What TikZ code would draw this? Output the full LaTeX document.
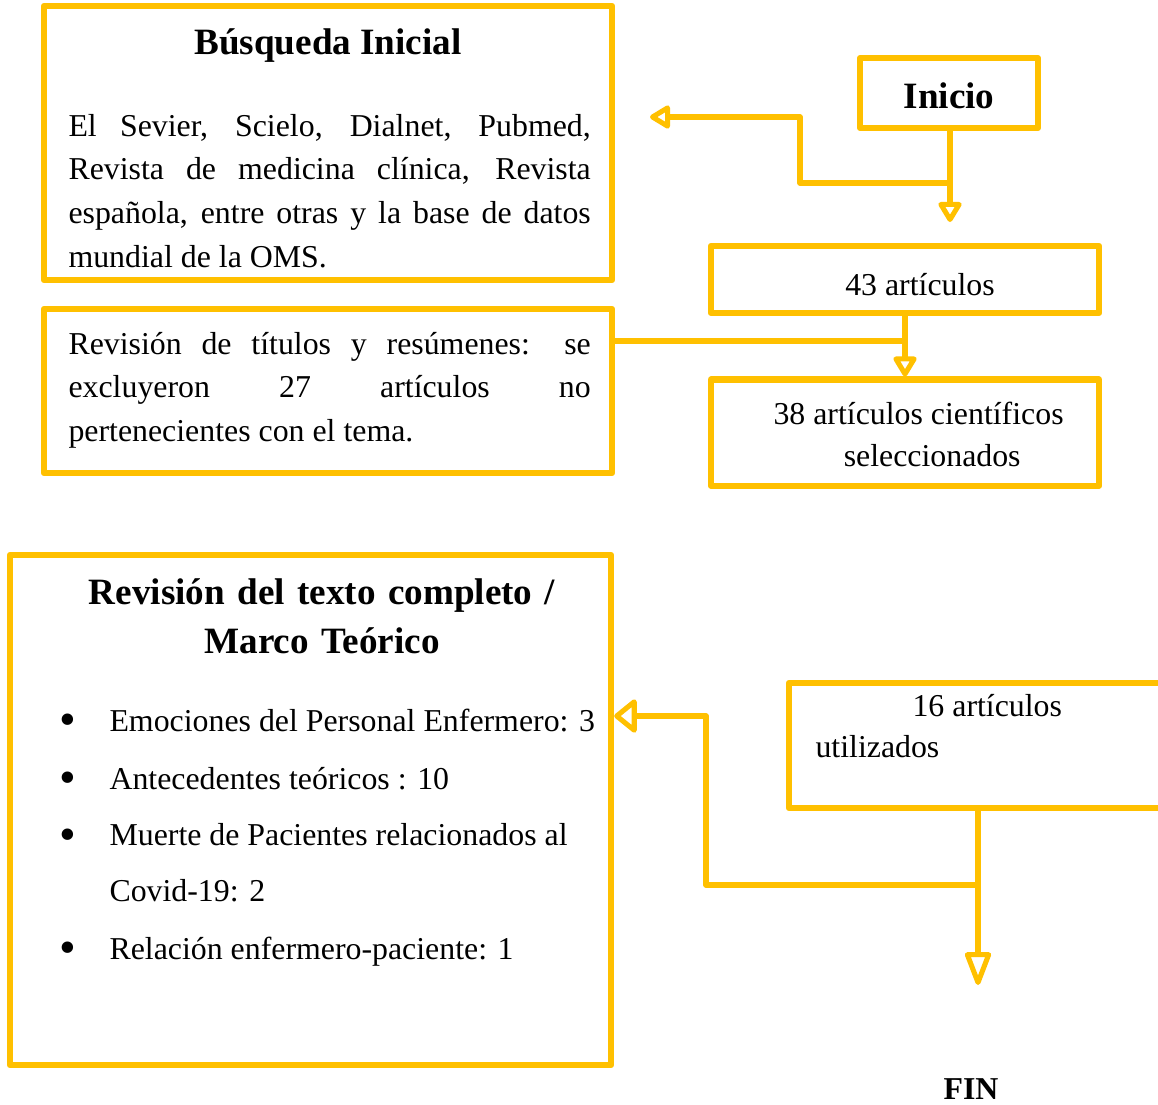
\documentclass[tikz,border=0pt]{standalone}
\usepackage{fontspec}
\setmainfont{Liberation Serif}
\usetikzlibrary{arrows.meta,positioning}
\definecolor{cgold}{RGB}{255,192,0}

\begin{document}
\begin{tikzpicture}[-,x=0.01325cm,y=-0.01325cm,line join=round,
  box node/.style={rectangle,draw=cgold,line width=2.3pt,inner sep=0pt},
  text node/.style={inner sep=0pt,font=\fontsize{12}{16.5}\selectfont},
  title node/.style={inner sep=0pt,font=\fontsize{14}{18.8}\selectfont\bfseries},
  bullet node/.style={inner sep=0pt,font=\fontsize{18}{18}\selectfont},
  link/.style={draw=cgold,line width=1.9pt},
  small head/.style={-{Triangle[open,round,length=0.3cm,width=0.34cm]}},
  long head/.style={-{Triangle[open,round,length=0.5cm,width=0.36cm]}},
  wide head/.style={-{Triangle[open,round,length=0.32cm,width=0.5cm]}}]
  \useasboundingbox (0,0) rectangle (1158,1104);

  % boxes
  \node[box node,minimum width=7.526cm,minimum height=3.63cm] (busqueda) at (328,143) {};
  \node[box node,minimum width=2.358cm,minimum height=0.928cm] (inicio) at (949,93) {};
  \node[box node,minimum width=5.141cm,minimum height=0.888cm] (n43) at (905,279.5) {};
  \node[box node,minimum width=7.526cm,minimum height=2.173cm] (revision) at (328,391) {};
  \node[box node,minimum width=5.141cm,minimum height=1.405cm] (n38) [below=0.8cm of n43] {};
  \node[box node,minimum width=7.963cm,minimum height=6.758cm] (marco) at (310.5,810) {};
  \node[box node,minimum width=5.115cm,minimum height=1.656cm] (n16) at (982,745.5) {};

  % texts
  \node[title node,anchor=base] (tbusqueda) at (328,54) {Búsqueda Inicial};
  \node[text node,anchor=base west,text width=6.917cm,align=justify] (fuentes) at (68,136)
    {El Sevier, Scielo, Dialnet, Pubmed, \linebreak Revista de medicina clínica, Revista \linebreak española, entre otras y la base de datos \linebreak mundial de la OMS.};
  \node[title node,anchor=base] (tinicio) at (949,108) {Inicio};
  \node[text node,anchor=base] (t43) at (920,295) {43 artículos};
  \node[text node,anchor=base west,text width=6.917cm,align=justify] (excluidos) at (68,354)
    {Revisión de títulos y resúmenes: se \linebreak excluyeron 27 artículos no \linebreak pertenecientes con el tema.};
  \node[text node,anchor=base west,align=left,font=\fontsize{12}{15.8}\selectfont] (t38) at (773,466)
    {38 artículos científicos\\\hspace*{0.93cm}seleccionados};
  \node[text node,anchor=base west,align=left,font=\fontsize{12}{15.2}\selectfont] (t16) at (815,757)
    {\hspace*{1.285cm}16 artículos\\utilizados};
  \node[title node,anchor=base,text width=7.9cm,align=center] (tmarco) at (322,604)
    {Revisión del texto completo /\\Marco Teórico};
  \node[bullet node] (b1) at (68,725) {\textbullet};
  \node[bullet node] (b2) at (68,783) {\textbullet};
  \node[bullet node] (b3) at (68,840) {\textbullet};
  \node[bullet node] (b4) at (68,953) {\textbullet};
  \node[text node,anchor=base west] (i1) at (109,731) {Emociones del Personal Enfermero: 3};
  \node[text node,anchor=base west] (i2) at (109,789) {Antecedentes teóricos : 10};
  \node[text node,anchor=base west,align=left,font=\fontsize{12}{20.8}\selectfont] (i3) at (109,901)
    {Muerte de Pacientes relacionados al\\Covid-19: 2};
  \node[text node,anchor=base west] (i4) at (109,959) {Relación enfermero-paciente: 1};
  \node[title node,font=\fontsize{12}{14}\selectfont\bfseries,anchor=base] (fin) at (971,1099) {FIN};

  % connectors
  \coordinate (splitA) at (950,183);
  \coordinate (endA) at (950,222);
  \coordinate (turnA) at (800,117);
  \coordinate (endB) at (650,117);
  \coordinate (joinB) at (905,341);
  \coordinate (splitC) at (978,885);
  \coordinate (turnC) at (706,716);
  \coordinate (endD) at (978,985);
  \draw[link,small head] (inicio.south -| endA) -- (endA);
  \draw[link,small head] (splitA) -| (turnA) -- (endB);
  \draw[link] (revision.east |- joinB) -- (joinB);
  \draw[link,small head] (n43.south) -- (n38.north);
  \draw[link,wide head] (splitC) -| (turnC) -- (marco.east |- turnC);
  \draw[link,long head] (n16.south -| endD) -- (endD);
\end{tikzpicture}
\end{document}
